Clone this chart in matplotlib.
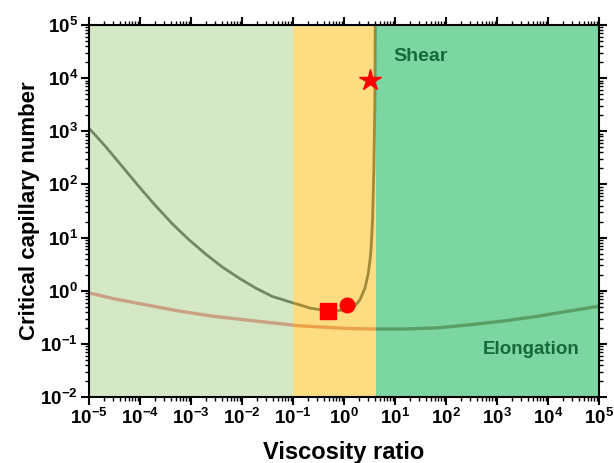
import matplotlib
matplotlib.use("Agg")
import matplotlib.pyplot as plt
from matplotlib.ticker import LogLocator, LogFormatterMathtext, NullFormatter

plt.rcParams['font.family'] = ['Liberation Sans', 'DejaVu Sans']
plt.rcParams['font.weight'] = 'bold'
plt.rcParams['mathtext.fontset'] = 'custom'
plt.rcParams['mathtext.rm'] = 'Liberation Sans:bold'
plt.rcParams['mathtext.it'] = 'Liberation Sans:bold'
plt.rcParams['mathtext.bf'] = 'Liberation Sans:bold'
plt.rcParams['mathtext.sf'] = 'Liberation Sans:bold'

# ---- data ----
shear_x = [1e-5, 2.12e-5, 4.5e-5, 9.55e-5, 2.03e-4, 4.3e-4, 9.14e-4, 1.94e-3, 4.11e-3,
           8.73e-3, 1.86e-2, 3.93e-2, 0.1, 0.137, 0.215, 0.338, 0.6, 1.0, 1.64, 2.06,
           2.58, 3.0, 3.24, 3.38, 3.63, 3.85, 4.03, 4.09]
shear_y = [1143, 515, 217, 91, 39.5, 18.2, 9.08, 4.89, 2.79,
           1.73, 1.12, 0.78, 0.59, 0.54, 0.47, 0.44, 0.42, 0.43, 0.52, 0.68,
           1.12, 2.15, 3.8, 5.9, 21, 186, 3390, 1e5]

elong_x = [1e-5, 3.0e-5, 1.35e-4, 6.2e-4, 2.75e-3, 1.26e-2, 5.6e-2, 0.12, 1.15, 4.2,
           15, 68, 310, 1380, 6300, 2.8e4, 1e5]
elong_y = [0.91, 0.71, 0.54, 0.41, 0.33, 0.28, 0.24, 0.22, 0.195, 0.19,
           0.19, 0.20, 0.23, 0.27, 0.33, 0.42, 0.51]

region_bounds = [1e-5, 0.1, 4.3, 1e5]
region_colors = ['#d5e8c6', '#fedc82', '#7bd6a2']
shear_colors = ['#6f8a62', '#a08a38', '#4f8a5a']
elong_colors = ['#c9a283', '#eba24a', '#5c9e68']

square_pt = (0.49, 0.42)
circle_pt = (1.15, 0.53)
star_pt = (3.2, 9.1e3)

fig = plt.figure(figsize=(6.14, 4.63), dpi=100)
ax = fig.add_axes([89/614, 1-397/463, (599-89)/614, (397-25)/463])
ax.set_xscale('log')
ax.set_yscale('log')
ax.set_xlim(1e-5, 1e5)
ax.set_ylim(1e-2, 1e5)

patches = []
for i in range(3):
    p = ax.axvspan(region_bounds[i], region_bounds[i+1], color=region_colors[i], lw=0, zorder=0)
    patches.append(p)

for i in range(3):
    l1, = ax.plot(shear_x, shear_y, color=shear_colors[i], lw=2.0, zorder=2,
                  solid_joinstyle='round')
    l1.set_clip_path(patches[i])
    l2, = ax.plot(elong_x, elong_y, color=elong_colors[i], lw=2.4, zorder=2,
                  solid_joinstyle='round')
    l2.set_clip_path(patches[i])

ax.plot(*square_pt, marker='s', color='#ff0000', ms=11, ls='none', zorder=5)
ax.plot(*circle_pt, marker='o', color='#ff0000', ms=10.5, ls='none', zorder=5)
ax.plot(*star_pt, marker='*', color='#ff0000', ms=16, ls='none', zorder=5)

ax.text(32, 2.6e4, 'Shear', color='#17683a', fontsize=14, fontweight='bold', ha='center', va='center')
ax.text(4.7e3, 0.078, 'Elongation', color='#17683a', fontsize=13.5, fontweight='bold', ha='center', va='center')

ax.set_xlabel('Viscosity ratio', fontsize=17, fontweight='bold', labelpad=9)
ax.set_ylabel('Critical capillary number', fontsize=16, fontweight='bold')

for a in (ax.xaxis, ax.yaxis):
    a.set_major_locator(LogLocator(base=10, numticks=20))
    a.set_minor_locator(LogLocator(base=10, subs=range(2, 10), numticks=20))
    a.set_major_formatter(LogFormatterMathtext())
    a.set_minor_formatter(NullFormatter())

ax.tick_params(which='major', direction='out', length=6, width=1.5, labelsize=13.5,
               top=True, right=True, pad=2)
ax.tick_params(which='minor', direction='out', length=3, width=1.0, top=True, right=True)
for s in ax.spines.values():
    s.set_linewidth(1.5)
    s.set_color('black')
    s.set_zorder(6)

# y label: right edge of the rotated text ~40 px from the figure's left edge
ax.yaxis.set_label_coords(-(89 - 40) / (599 - 89), 0.5)

fig.savefig('out.png', dpi=100)
